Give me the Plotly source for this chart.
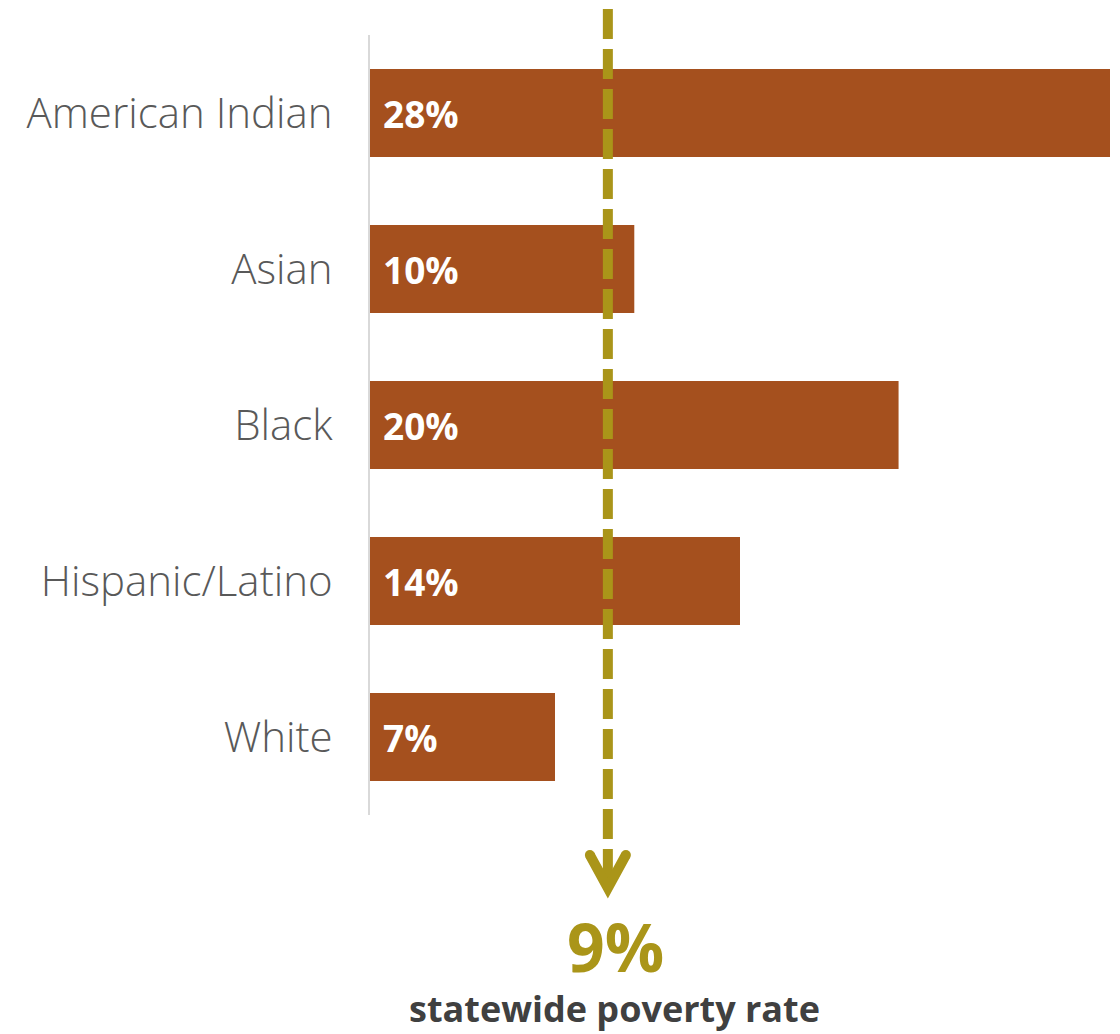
import plotly.graph_objects as go

# Poverty rate by race/ethnicity
groups = ["American Indian", "Asian", "Black", "Hispanic/Latino", "White"]
rates = [28, 10, 20, 14, 7]
statewide_rate = 9
statewide_label = "statewide poverty rate"

BAR = "#A5501E"
GOLD = "#AA9519"
LABEL = "#595959"
FONT = "Open Sans"

fig = go.Figure()
fig.add_trace(go.Bar(
    x=rates, y=groups, orientation="h",
    marker=dict(color=BAR, line=dict(width=0)),
    hoverinfo="skip",
))

# value labels at the start of each bar
for g, r in zip(groups, rates):
    fig.add_annotation(
        x=0, y=g, xref="x", yref="y", text=f"<b>{r}%</b>",
        xanchor="left", yanchor="middle", xshift=11, showarrow=False,
        font=dict(family=FONT, size=37, color="white"),
    )

# statewide reference: dashed line ending in a chevron arrow
tip_y = (815 - 888) / 780
fig.add_shape(
    type="line", xref="x", yref="paper",
    x0=statewide_rate, x1=statewide_rate, y0=(815 - 9) / 780, y1=tip_y + 8 / 780,
    line=dict(color=GOLD, width=10, dash="30px,10px"),
)
fig.add_shape(
    type="path", xref="x", yref="paper",
    xsizemode="pixel", ysizemode="pixel",
    xanchor=statewide_rate, yanchor=tip_y,
    path="M -18 33 L 0 0 L 18 33",
    line=dict(color=GOLD, width=10),
)
for dx in (-18, 18):
    fig.add_shape(
        type="circle", xref="x", yref="paper",
        xsizemode="pixel", ysizemode="pixel",
        xanchor=statewide_rate, yanchor=tip_y,
        x0=dx - 5, x1=dx + 5, y0=28, y1=38,
        fillcolor=GOLD, line=dict(width=0),
    )

fig.add_annotation(
    x=statewide_rate, y=(815 - 946) / 780, xref="x", yref="paper",
    text=f"<b>{statewide_rate}%</b>", showarrow=False, xshift=8,
    xanchor="center", yanchor="middle",
    font=dict(family=FONT, size=66, color=GOLD),
)
fig.add_annotation(
    x=statewide_rate, y=(815 - 1008) / 780, xref="x", yref="paper",
    text=f"<b>{statewide_label}</b>", showarrow=False, xshift=7,
    xanchor="center", yanchor="middle",
    font=dict(family=FONT, size=36, color="#404040"),
)

fig.update_layout(
    width=1120, height=1034,
    margin=dict(l=370, r=10, t=35, b=219),
    paper_bgcolor="white", plot_bgcolor="white",
    bargap=0.436, showlegend=False,
    xaxis=dict(range=[0, 28], visible=False, fixedrange=True),
    yaxis=dict(
        autorange="reversed", showline=True, linecolor="#D9D9D9", linewidth=2,
        showgrid=False, ticks="", ticklabelstandoff=27,
        tickfont=dict(family=FONT, size=42, color=LABEL, weight=300),
    ),
)

fig.write_html("out.html")
